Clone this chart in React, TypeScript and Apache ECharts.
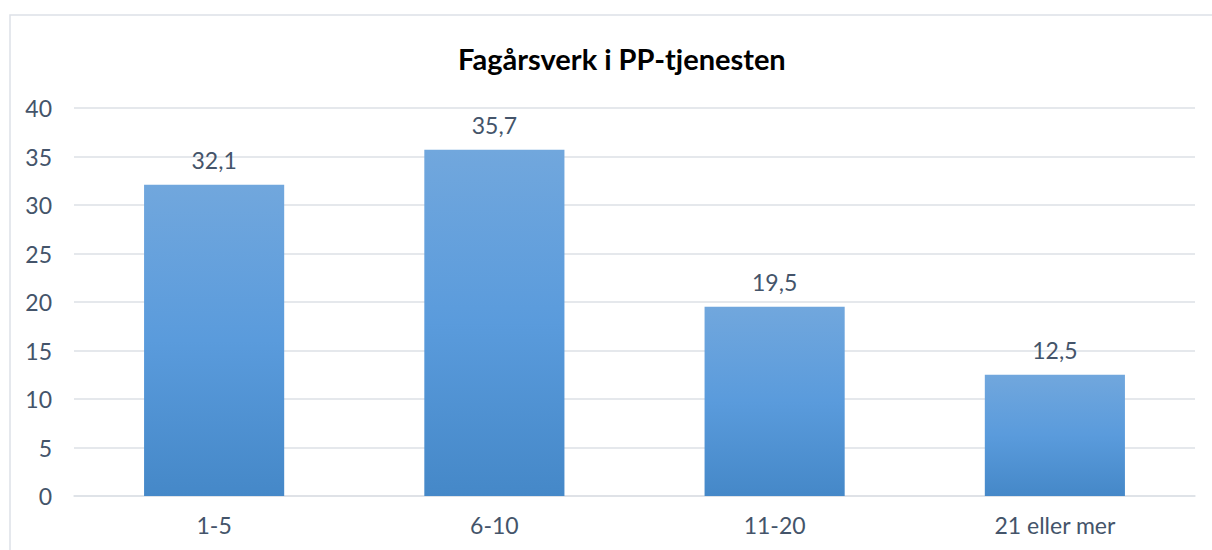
import React, { useEffect, useRef } from "react";
import * as echarts from "echarts";

const categories = ["1-5", "6-10", "11-20", "21 eller mer"];
const values = [32.1, 35.7, 19.5, 12.5];
const yTicks = { min: 0, max: 40, interval: 5 };
const title = "Fagårsverk i PP-tjenesten";

const FONT = "Lato, 'Open Sans', sans-serif";
const TEXT = "#44546a";
const GRID = "#dde1e6";

export default function App() {
  const ref = useRef<HTMLDivElement>(null);
  useEffect(() => {
    const chart = echarts.init(ref.current!, null, { renderer: "svg" });
    chart.setOption({
      animation: false,
      backgroundColor: "#ffffff",
      title: {
        text: title,
        left: 453,
        top: 39,
        textStyle: { fontFamily: FONT, fontSize: 29, fontWeight: "bold", color: "#000000" },
      },
      graphic: [
        {
          type: "rect",
          shape: { x: 10, y: 15, width: 1215, height: 545 },
          style: { fill: "none", stroke: "#dde1e7", lineWidth: 1.5 },
          silent: true,
        },
      ],
      grid: { left: 74, right: 17, top: 108, bottom: 54, containLabel: false },
      xAxis: {
        type: "category",
        data: categories,
        axisTick: { show: false },
        axisLine: { lineStyle: { color: GRID, width: 1.5 } },
        axisLabel: { fontFamily: FONT, fontSize: 23, color: TEXT, margin: 17 },
      },
      yAxis: {
        type: "value",
        min: yTicks.min,
        max: yTicks.max,
        interval: yTicks.interval,
        axisLine: { show: false },
        axisTick: { show: false },
        splitLine: { lineStyle: { color: GRID, width: 1.5 } },
        axisLabel: { fontFamily: FONT, fontSize: 23, color: TEXT, margin: 22 },
      },
      series: [
        {
          type: "bar",
          data: values,
          barWidth: "50%",
          itemStyle: {
            color: new echarts.graphic.LinearGradient(0, 0, 0, 1, [
              { offset: 0, color: "#71a7dd" },
              { offset: 0.5, color: "#5a9bdc" },
              { offset: 1, color: "#4588c8" },
            ]),
          },
          label: {
            show: true,
            position: "top",
            distance: 13,
            fontFamily: FONT,
            fontSize: 23,
            color: TEXT,
            formatter: (p: any) => String(p.value).replace(".", ","),
          },
        },
      ],
    });
    return () => chart.dispose();
  }, []);
  return (
    <div
      ref={ref}
      style={{ position: "absolute", left: 0, top: 0, width: 1212, height: 550 }}
    />
  );
}
